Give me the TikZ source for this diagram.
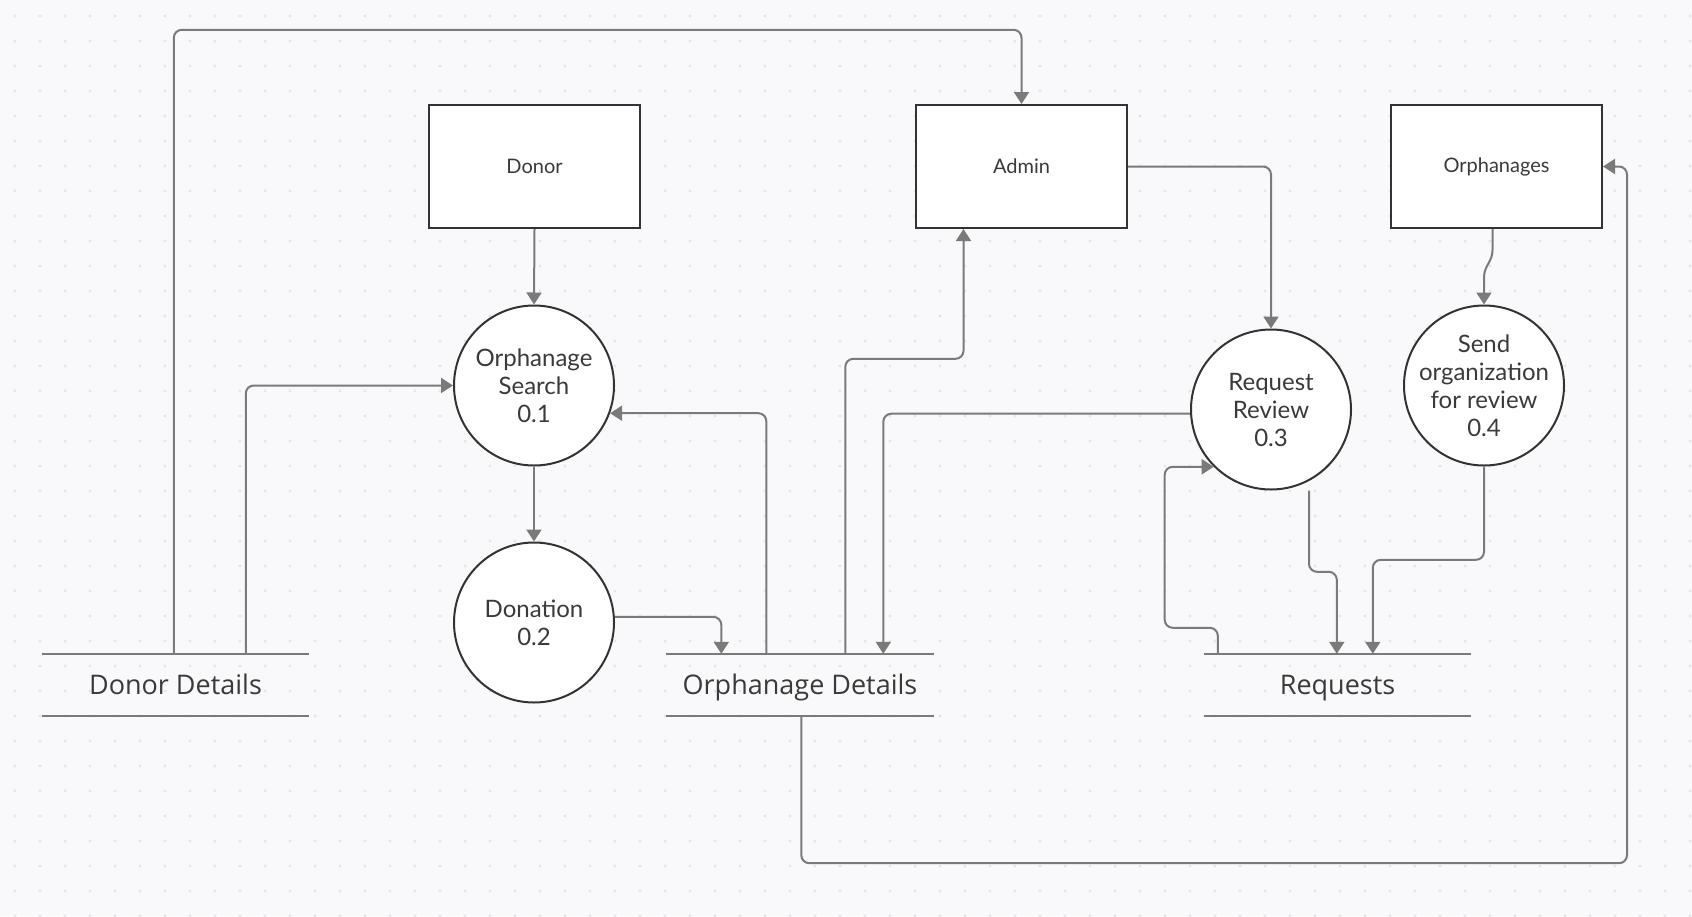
\documentclass[tikz,border=0pt]{standalone}
\usepackage{fontspec}
\setmainfont{Lato}
\newfontfamily\storefont{Open Sans}
\usetikzlibrary{arrows.meta,calc}

\definecolor{bg}{HTML}{F9F9FB}
\definecolor{dotc}{HTML}{E4E4E9}
\definecolor{edge}{HTML}{333333}
\definecolor{conn}{HTML}{7A7A7A}
\definecolor{txt}{HTML}{3A3A3A}

\begin{document}
\begin{tikzpicture}[x=1pt,y=-1pt,
  entity/.style={draw=edge, line width=2pt, fill=white, minimum width=211pt, minimum height=123pt, inner sep=0pt, font=\fontsize{20}{24}\selectfont, text=txt},
  process/.style={circle, draw=edge, line width=2pt, fill=white, minimum size=160pt, inner sep=0pt, align=center, font=\fontsize{24}{28}\selectfont, text=txt},
  store/.style={minimum width=267pt, minimum height=62pt, inner sep=0pt, text height=22pt, text depth=3pt, font=\storefont\fontsize{27}{30}\selectfont, text=txt},
  sline/.style={draw=conn, line width=2.5pt},
  flow/.style={draw=conn, line width=2pt, rounded corners=8pt, -{Triangle[length=12pt,width=15pt]}},
]
\fill[bg] (0,0) rectangle (1692,916);
\useasboundingbox (0,0) rectangle (1692,916);
\foreach \i in {0,...,67} {\foreach \j in {0,...,36} {\fill[dotc] ({15+25*\i},{16+25*\j}) circle (1.7pt);}}

% entities
\node[entity] (donor) at (534.5,166.5) {Donor};
\node[entity] (admin) at (1021.5,166.5) {Admin};
\node[entity] (orph) at (1496.5,166.5) {Orphanages};

% processes
\node[process] (os) at (534,385.5) {Orphanage\\Search\\0.1};
\node[process] (dn) at (534,622.5) {Donation\\0.2};
\node[process] (rr) at (1271,409.5) {Request\\Review\\0.3};
\node[process, inner sep=-12pt] (so) at (1484,385.5) {Send\\organization\\for review\\0.4};

% stores
\node[store] (dd) at (175.5,685) {Donor Details};
\node[store] (od) at (800,685) {Orphanage Details};
\node[store] (req) at (1337.5,685) {Requests};
\foreach \s in {dd,od,req} {
  \draw[sline] (\s.north west) -- (\s.north east);
  \draw[sline] (\s.south west) -- (\s.south east);
}

% flows
\draw[flow] (donor.south) -- (os.north);
\draw[flow] ($(dd.north west)+(204,0)$) |- (os.west);
\draw[flow] ($(dd.north west)+(132,0)$) -- ++(0,-624) -| (admin.north);
\draw[flow] (os.south) -- (dn.north);
\draw[flow] (dn.4) -| ($(od.north west)+(55,0)$);
\draw[flow] ($(od.north west)+(100,0)$) |- (os.-20.6);
\draw[flow] ($(od.north west)+(179,0)$) -- ++(0,-295) -| ($(admin.south)+(-58,0)$);
\draw[flow] (rr.-177) -| ($(od.north west)+(217,0)$);
\draw[flow] (admin.east) -| (rr.north);
\coordinate (o1) at ($(orph.south)+(-4,0)$);
\draw[flow, rounded corners=0pt] (o1) -- ++(0,21) .. controls ++(0,12) and ($(so.north)+(0,-39)$) .. ($(so.north)+(0,-27)$) -- (so.north);
\draw[flow] ($(rr.south)+(38,0)$) |- ($(req.north west)+(133,-82)$) -- ($(req.north west)+(133,0)$);
\draw[flow] (so.south) |- ($(req.north west)+(169,-94)$) -- ($(req.north west)+(169,0)$);
\draw[flow] ($(req.north west)+(14,0)$) -- ++(0,-26) -| ($(rr.225.7)+(-49,0)$) -- (rr.225.7);
\draw[flow] ($(od.south west)+(135,0)$) -- ++(0,147) -| ($(orph.east)+(24,0)$) -- (orph.east);
\end{tikzpicture}
\end{document}
